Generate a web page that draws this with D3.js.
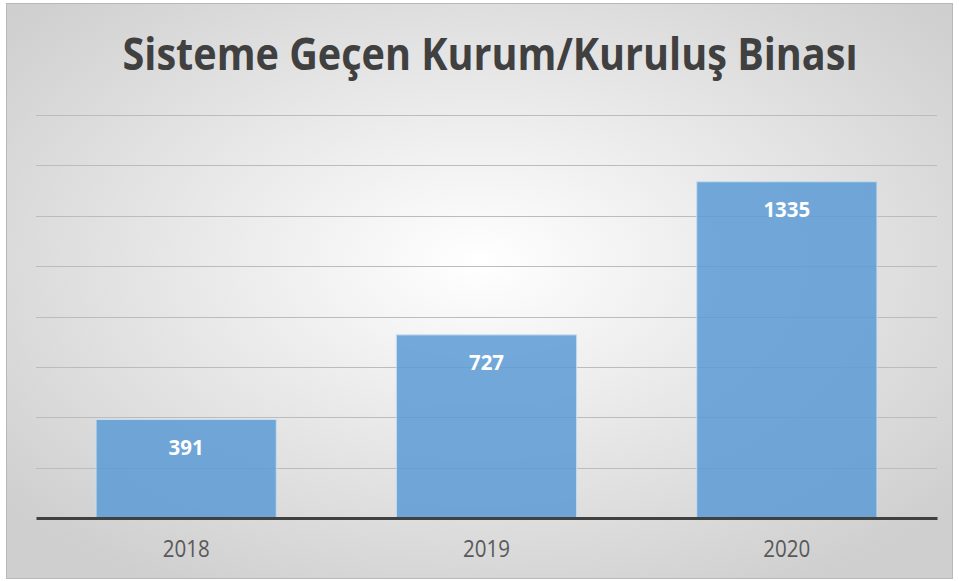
<!DOCTYPE html>
<html>
<head>
<meta charset="utf-8">
<script src="https://cdn.jsdelivr.net/npm/d3@7"></script>
<style>
  body { margin: 0; background: #fff; }
  svg { display: block; }
</style>
</head>
<body>
<div id="chart"></div>
<script>
const title = 'Sisteme Geçen Kurum/Kuruluş Binası';
const years = ['2018', '2019', '2020'];
const buildings = [391, 727, 1335];
const gridTicks = [0, 200, 400, 600, 800, 1000, 1200, 1400, 1600];

const W = 959, H = 581;
const margin = { top: 115, right: 22, bottom: 63, left: 36 };
const width = W - margin.left - margin.right;
const height = 403;

const svg = d3.select('#chart').append('svg')
    .attr('width', W)
    .attr('height', H);

const defs = svg.append('defs');
const grad = defs.append('radialGradient')
    .attr('id', 'bg')
    .attr('cx', '50%').attr('cy', '45%').attr('r', '65%');
grad.append('stop').attr('offset', '0%').attr('stop-color', '#ffffff');
grad.append('stop').attr('offset', '100%').attr('stop-color', '#cfcfcf');

// chart frame
svg.append('rect')
    .attr('x', 6.5).attr('y', 3.5)
    .attr('width', 946).attr('height', 575)
    .attr('fill', 'url(#bg)')
    .attr('stroke', '#b8b8b8')
    .attr('stroke-width', 1);

svg.append('text')
    .attr('x', 490)
    .attr('y', 70)
    .attr('text-anchor', 'middle')
    .attr('font-family', 'Open Sans, sans-serif')
    .attr('font-weight', 'bold')
    .attr('font-size', 45)
    .attr('fill', '#404040')
    .attr('textLength', 735)
    .attr('lengthAdjust', 'spacingAndGlyphs')
    .text(title);

const g = svg.append('g')
    .attr('transform', `translate(${margin.left},${margin.top})`);

const x = d3.scaleBand().domain(years).range([0, width]).paddingInner(0.4).paddingOuter(0.2);
const y = d3.scaleLinear().domain([0, 1600]).range([height, 0]);

// gridlines
g.selectAll('.grid')
    .data(gridTicks.slice(1))
    .enter()
    .append('line')
    .attr('class', 'grid')
    .attr('x1', 0).attr('x2', width)
    .attr('y1', d => Math.round(y(d)) + 0.5)
    .attr('y2', d => Math.round(y(d)) + 0.5)
    .attr('stroke', '#bcbcbc')
    .attr('stroke-width', 1);

// bars
g.selectAll('.bar')
    .data(buildings)
    .enter()
    .append('rect')
    .attr('class', 'bar')
    .attr('x', (d, i) => x(years[i]))
    .attr('width', x.bandwidth())
    .attr('y', d => y(d))
    .attr('height', d => height - y(d))
    .attr('fill', '#5b9bd5')
    .attr('fill-opacity', 0.85)
    .attr('stroke', '#c5dcf0')
    .attr('stroke-width', 1);

// value labels
g.selectAll('.val')
    .data(buildings)
    .enter()
    .append('text')
    .attr('class', 'val')
    .attr('x', (d, i) => x(years[i]) + x.bandwidth() / 2)
    .attr('y', d => y(d) + 35)
    .attr('text-anchor', 'middle')
    .attr('font-family', 'Open Sans, sans-serif')
    .attr('font-weight', 'bold')
    .attr('font-size', 22)
    .attr('fill', '#ffffff')
    .attr('textLength', d => String(d).length * 11.7)
    .attr('lengthAdjust', 'spacingAndGlyphs')
    .text(d => d);

// x axis baseline + labels
const xAxis = g.append('g')
    .attr('transform', `translate(0,${height})`)
    .call(d3.axisBottom(x).tickSize(0));
xAxis.select('.domain')
    .attr('stroke', '#404040')
    .attr('stroke-width', 3);
xAxis.selectAll('text')
    .attr('y', 39)
    .attr('dy', 0)
    .attr('font-family', 'Open Sans, sans-serif')
    .attr('font-size', 23)
    .attr('fill', '#595959')
    .attr('textLength', 47)
    .attr('lengthAdjust', 'spacingAndGlyphs');
</script>
</body>
</html>
